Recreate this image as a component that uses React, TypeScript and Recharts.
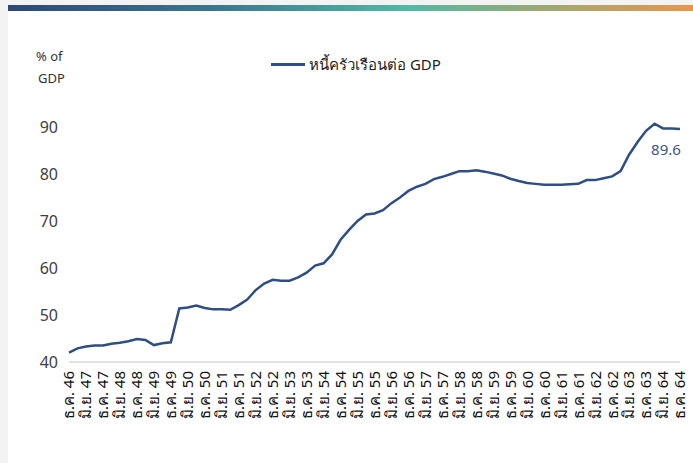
import React from "react";
import { LineChart, Line, XAxis, YAxis } from "recharts";

// quarters from ธ.ค. 46 to ธ.ค. 64
const startYear = 46;
const endYear = 64;
const quarterMonths = ["มี.ค.", "มิ.ย.", "ก.ย.", "ธ.ค."];

const debtToGdp = [
  42.0, 42.9, 43.3, 43.5, 43.5, 43.9, 44.1, 44.4, 44.9, 44.7,
  43.6, 44.0, 44.2, 51.4, 51.6, 52.0, 51.5, 51.2, 51.2, 51.1,
  52.1, 53.3, 55.3, 56.7, 57.5, 57.3, 57.3, 58.0, 59.0, 60.5,
  61.0, 62.9, 66.0, 68.1, 70.0, 71.4, 71.6, 72.3, 73.8, 75.0,
  76.4, 77.3, 77.9, 78.9, 79.4, 80.0, 80.6, 80.6, 80.8, 80.5,
  80.1, 79.7, 79.0, 78.5, 78.1, 77.9, 77.7, 77.7, 77.7, 77.8,
  77.9, 78.7, 78.7, 79.1, 79.5, 80.6, 84.1, 86.8, 89.2, 90.7,
  89.7, 89.7, 89.6,
];

const yTicks = [40, 50, 60, 70, 80, 90];

const periods: string[] = ["ธ.ค. " + startYear];
for (let y = startYear + 1; y <= endYear; y++) {
  quarterMonths.forEach((m) => periods.push(m + " " + y));
}

const data = periods.map((p, i) => ({ period: p, value: debtToGdp[i] }));

const LINE = "#2f4f82";
const FONT = "'Noto Sans', 'Open Sans', sans-serif";

function RotatedTick({ x, y, payload }: { x?: number; y?: number; payload?: { value: string } }) {
  const ty = (y ?? 0) + 1;
  return (
    <text
      x={x}
      y={ty}
      transform={`rotate(-90, ${x}, ${ty})`}
      textAnchor="end"
      dy="0.36em"
      fontSize={15}
      fill="#111"
      fontFamily={FONT}
    >
      {payload?.value}
    </text>
  );
}

function LastLabel(props: { x?: number; y?: number; index?: number }) {
  const { x = 0, y = 0, index } = props;
  if (index !== debtToGdp.length - 1) return null;
  return (
    <text x={x - 14} y={y + 26} textAnchor="middle" fontSize={15} fill="#3c5585" fontFamily={FONT}>
      {debtToGdp[index].toFixed(1)}
    </text>
  );
}

export default function App() {
  return (
    <div style={{ position: "absolute", left: 0, top: 0, width: 693, height: 463, background: "#f3f3f3", overflow: "hidden" }}>
      <div style={{ position: "absolute", left: 8, top: 5, right: 0, bottom: 0, background: "#fff" }} />
      <div
        style={{
          position: "absolute", left: 8, top: 5, right: 0, height: 6,
          background: "linear-gradient(to right, #2c4879 0%, #3a7690 30%, #4fb9a4 58%, #a3a86e 80%, #ec944a 100%)",
        }}
      />
      <div style={{ position: "absolute", left: 36, top: 45, fontFamily: FONT, fontSize: 13, lineHeight: "22px", color: "#333" }}>
        <div>% of</div>
        <div style={{ marginLeft: 2 }}>GDP</div>
      </div>
      <div
        style={{
          position: "absolute", left: 271, top: 53, display: "flex", alignItems: "center",
          fontFamily: FONT, fontSize: 15, color: "#222", lineHeight: "22px",
        }}
      >
        <span style={{ display: "inline-block", width: 34, height: 3, background: LINE, marginRight: 4 }} />
        <span>หนี้ครัวเรือนต่อ GDP</span>
      </div>
      <div style={{ position: "absolute", left: 0, top: 0 }}>
        <LineChart width={693} height={463} data={data} margin={{ top: 80, right: 13, bottom: 41, left: 19 }}>
          <XAxis
            dataKey="period"
            interval={1}
            height={60}
            tickLine={false}
            axisLine={{ stroke: "#d9d9d9", strokeWidth: 1.5 }}
            tick={<RotatedTick />}
          />
          <YAxis
            domain={[40, 100]}
            ticks={yTicks}
            width={50}
            axisLine={false}
            tickLine={false}
            tickMargin={5}
            tick={{ fontSize: 16, fill: "#404040", fontFamily: FONT }}
          />
          <Line
            type="linear"
            dataKey="value"
            stroke={LINE}
            strokeWidth={2.5}
            dot={false}
            isAnimationActive={false}
            label={<LastLabel />}
          />
        </LineChart>
      </div>
    </div>
  );
}
